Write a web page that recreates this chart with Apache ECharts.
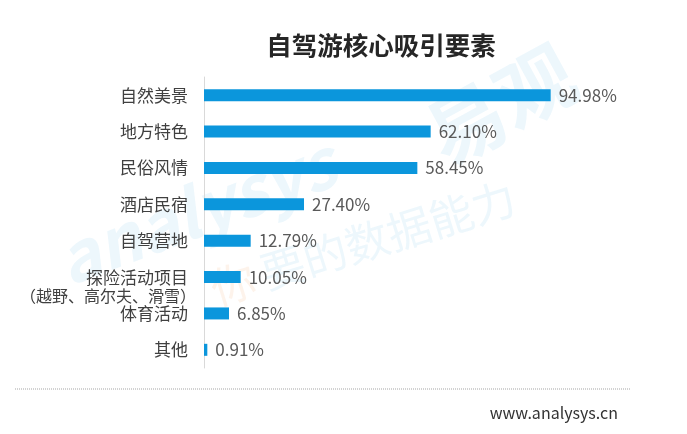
<!DOCTYPE html>
<html lang="zh">
<head>
    <meta charset="UTF-8">
    <title>自驾游核心吸引要素</title>
    <script src="https://cdn.jsdelivr.net/npm/echarts@6/dist/echarts.min.js"></script>
    <style>
        html, body { margin: 0; padding: 0; background: #fff; }
        #main { width: 687px; height: 434px; }
    </style>
</head>
<body>
<div id="main"></div>
<script type="text/javascript">
    // 数据
    var categories = ['自然美景', '地方特色', '民俗风情', '酒店民宿', '自驾营地', '探险活动项目\n（越野、高尔夫、滑雪）', '体育活动', '其他'];
    var values = [94.98, 62.10, 58.45, 27.40, 12.79, 10.05, 6.85, 0.91];

    var font = '"Noto Sans CJK SC", "Noto Sans", sans-serif';

    var catData = [];
    for (var i = 0; i < categories.length; i++) {
        if (categories[i].indexOf('\n') >= 0) {
            catData.push({ value: categories[i], textStyle: { padding: [19, 0, 0, 0] } });
        } else {
            catData.push(categories[i]);
        }
    }

    var myChart = echarts.init(document.getElementById('main'));

    var wm = 'rgba(11,150,220,0.075)';

    var option = {
        backgroundColor: '#fff',
        animation: false,
        grid: { left: 204, right: 118, top: 77, bottom: 66, containLabel: false, outerBoundsMode: 'none' },
        xAxis: {
            type: 'value',
            min: 0,
            max: 100,
            show: false
        },
        yAxis: {
            type: 'category',
            inverse: true,
            data: catData,
            axisLine: { lineStyle: { color: '#d9d9d9', width: 1 } },
            axisTick: { show: false },
            axisLabel: {
                margin: 8,
                fontFamily: font,
                fontSize: 17,
                lineHeight: 19,
                color: '#404040',
                formatter: function (v) {
                    var parts = v.split('\n');
                    if (parts.length > 1) {
                        return '{a|' + parts[0] + '}\n{b|' + parts[1] + '}';
                    }
                    return '{a|' + v + '}';
                },
                rich: {
                    a: { fontFamily: font, fontSize: 17, lineHeight: 19, color: '#404040', padding: [0, 8, 0, 0] },
                    b: { fontFamily: font, fontSize: 16, lineHeight: 19, color: '#404040' }
                }
            }
        },
        series: [{
            type: 'bar',
            data: values,
            barWidth: 12,
            itemStyle: { color: '#0b96dc' },
            label: {
                show: true,
                position: 'right',
                distance: 8,
                fontFamily: font,
                fontSize: 17,
                color: '#595959',
                formatter: function (p) { return p.value.toFixed(2) + '%'; }
            }
        }],
        graphic: [
            // 水印
            {
                type: 'text', x: 60, y: 262, rotation: 0.36, silent: true, z: -1,
                style: { text: 'analysys', font: 'italic bold 68px ' + font, fill: wm, textVerticalAlign: 'middle' }
            },
            {
                type: 'text', x: 432, y: 142, rotation: 0.5, silent: true, z: -1,
                style: { text: '易观', font: 'bold 78px ' + font, fill: wm, textVerticalAlign: 'middle' }
            },
            {
                type: 'text', x: 212, y: 290, rotation: 0.3, silent: true, z: -1,
                style: { text: '你', font: '44px ' + font, fill: 'rgba(240,140,60,0.1)', textVerticalAlign: 'middle' }
            },
            {
                type: 'text', x: 262, y: 274, rotation: 0.3, silent: true, z: -1,
                style: { text: '要的数据能力', font: '44px ' + font, fill: wm, textVerticalAlign: 'middle' }
            },
            // 标题
            {
                type: 'text', x: 381, y: 45, silent: true,
                style: {
                    text: '自驾游核心吸引要素', font: 'bold 25.5px ' + font, fill: '#262626',
                    textAlign: 'center', textVerticalAlign: 'middle'
                }
            },
            // 底部虚线
            {
                type: 'line', silent: true,
                shape: { x1: 15, y1: 389, x2: 630, y2: 389 },
                style: { stroke: '#a6a6a6', lineWidth: 1, lineDash: [1, 1] }
            },
            {
                type: 'text', x: 618, y: 413, silent: true,
                style: { text: 'www.analysys.cn', font: '16px ' + font, fill: '#333', textAlign: 'right', textVerticalAlign: 'middle' }
            }
        ]
    };

    myChart.setOption(option);
</script>
</body>
</html>
